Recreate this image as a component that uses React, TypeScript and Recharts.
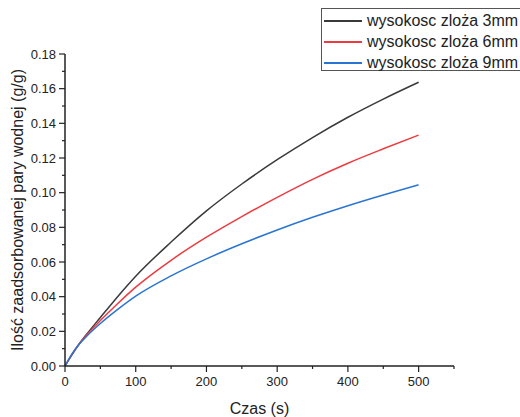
import React from "react";
import { LineChart, Line, XAxis, YAxis } from "recharts";

const czas = [0, 10, 20, 30, 50, 75, 100, 150, 200, 250, 300, 350, 400, 450, 500];
const h3mm = [0, 0.0066, 0.0127, 0.018, 0.028, 0.0403, 0.0518, 0.0715, 0.0895, 0.105, 0.119, 0.1318, 0.1435, 0.154, 0.1637];
const h6mm = [0, 0.0068, 0.0126, 0.0176, 0.0262, 0.0362, 0.0455, 0.061, 0.0743, 0.0862, 0.0973, 0.1077, 0.117, 0.1253, 0.1332];
const h9mm = [0, 0.007, 0.0125, 0.0169, 0.0245, 0.0328, 0.0403, 0.052, 0.0618, 0.0705, 0.0785, 0.0858, 0.0925, 0.0987, 0.1045];

const seriesNames = ["wysokosc zloża 3mm", "wysokosc zloża 6mm", "wysokosc zloża 9mm"];
const seriesColors = ["#3a3a3a", "#ee3b40", "#2b75d2"];

const xTicks = [0, 50, 100, 150, 200, 250, 300, 350, 400, 450, 500, 550];
const xLabels = [0, 100, 200, 300, 400, 500];
const yTicks = [0, 0.01, 0.02, 0.03, 0.04, 0.05, 0.06, 0.07, 0.08, 0.09, 0.1, 0.11, 0.12, 0.13, 0.14, 0.15, 0.16, 0.17, 0.18];
const yLabels = ["0.00", "0.02", "0.04", "0.06", "0.08", "0.10", "0.12", "0.14", "0.16", "0.18"];

const data = czas.map((t, i) => ({ t, a: h3mm[i], b: h6mm[i], c: h9mm[i] }));

const FONT = "'Liberation Sans', Arial, sans-serif";

const XTick = (props: any) => {
  const { x, y, payload } = props;
  const v = payload.value;
  const major = xLabels.includes(v);
  return (
    <g>
      <line x1={x} y1={y} x2={x} y2={y + (major ? 6 : 3)} stroke="#222" strokeWidth={1.2} />
      {major && (
        <text x={x} y={y + 20} textAnchor="middle" fontSize={13} fontFamily={FONT} fill="#222">
          {v}
        </text>
      )}
    </g>
  );
};

const YTick = (props: any) => {
  const { x, y, payload } = props;
  const v = payload.value as number;
  const idx = Math.round(v * 100);
  const major = idx % 2 === 0;
  return (
    <g>
      <line x1={x - (major ? 6 : 3)} y1={y} x2={x} y2={y} stroke="#222" strokeWidth={1.2} />
      {major && (
        <text x={x - 9} y={y + 4.5} textAnchor="end" fontSize={13} fontFamily={FONT} fill="#222">
          {yLabels[idx / 2]}
        </text>
      )}
    </g>
  );
};

const LegendBox = () => (
  <div
    style={{
      position: "absolute",
      left: 321,
      top: 8,
      border: "1px solid #555",
      background: "#fff",
      width: 205,
      height: 63,
      boxSizing: "border-box",
      paddingTop: 1,
      fontFamily: FONT,
    }}
  >
    {seriesNames.map((n, i) => (
      <div key={n} style={{ display: "flex", alignItems: "center", height: 21 }}>
        <div style={{ width: 38, height: 0, borderTop: `2px solid ${seriesColors[i]}`, marginLeft: 2, marginRight: 5 }} />
        <span style={{ fontSize: 16, color: "#222", whiteSpace: "nowrap", lineHeight: "21px" }}>{n}</span>
      </div>
    ))}
  </div>
);

export default function App() {
  return (
    <div style={{ position: "fixed", left: 0, top: 0, width: 520, height: 417, background: "#fff", overflow: "hidden" }}>
      <LineChart width={520} height={417} data={data} margin={{ top: 54, right: 66, bottom: 0, left: 0 }}>
        <XAxis
          dataKey="t"
          type="number"
          domain={[0, 550]}
          ticks={xTicks}
          interval={0}
          tickSize={0}
          tickMargin={0}
          tickLine={false}
          tick={<XTick />}
          axisLine={{ stroke: "#222", strokeWidth: 1.5 }}
          height={51}
          label={{ value: "Czas (s)", position: "insideBottom", offset: 3, fontSize: 16, fontFamily: FONT, fill: "#222" }}
        />
        <YAxis
          type="number"
          domain={[0, 0.18]}
          ticks={yTicks}
          interval={0}
          tickSize={0}
          tickMargin={0}
          tickLine={false}
          tick={<YTick />}
          axisLine={{ stroke: "#222", strokeWidth: 1.5 }}
          width={65}
          label={{
            value: "Ilość zaadsorbowanej pary wodnej (g/g)",
            angle: -90,
            position: "insideLeft",
            offset: 17,
            style: { textAnchor: "middle" },
            fontSize: 16,
            fontFamily: FONT,
            fill: "#222",
          }}
        />
        <Line type="monotone" dataKey="a" name={seriesNames[0]} stroke={seriesColors[0]} strokeWidth={1.5} dot={false} isAnimationActive={false} />
        <Line type="monotone" dataKey="b" name={seriesNames[1]} stroke={seriesColors[1]} strokeWidth={1.5} dot={false} isAnimationActive={false} />
        <Line type="monotone" dataKey="c" name={seriesNames[2]} stroke={seriesColors[2]} strokeWidth={1.5} dot={false} isAnimationActive={false} />
      </LineChart>
      <LegendBox />
    </div>
  );
}
